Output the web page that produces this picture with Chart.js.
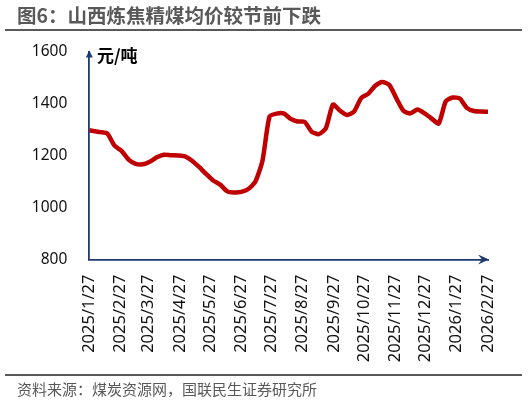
<!DOCTYPE html>
<html>
<head>
<meta charset="utf-8">
<script src="https://cdn.jsdelivr.net/npm/chart.js@4.4.1/dist/chart.umd.min.js"></script>
<style>
	html, body { margin: 0; padding: 0; background: #fff; }
	#wrap { position: relative; width: 532px; height: 401px; overflow: hidden; }
	#priceChart { position: absolute; left: 0; top: 0; }
	.title { position: absolute; left: 17px; top: 5px; font: bold 19.5px/20px "Noto Sans CJK SC"; color: #595959; white-space: nowrap; }
	.rule { position: absolute; left: 5px; width: 517px; height: 2px; background: #595959; }
	.unit { position: absolute; left: 97px; top: 45px; font: bold 17px/20px "Noto Sans CJK SC"; color: #000; white-space: nowrap; }
	.source { position: absolute; left: 17px; top: 381px; font: 15px/16px "Noto Sans CJK SC"; color: #595959; white-space: nowrap; }
</style>
</head>
<body>
<div id="wrap">
	<canvas id="priceChart" width="532" height="401"></canvas>
	<div class="title">图6：山西炼焦精煤均价较节前下跌</div>
	<div class="rule" style="top: 29px;"></div>
	<div class="unit">元/吨</div>
	<div class="rule" style="top: 374px;"></div>
	<div class="source">资料来源：煤炭资源网，国联民生证券研究所</div>
</div>
<script>
const DATES = [
	'2025/1/27', '2025/2/7', '2025/2/14', '2025/2/21', '2025/2/28',
	'2025/3/7', '2025/3/14', '2025/3/21', '2025/3/28', '2025/4/4',
	'2025/4/11', '2025/4/18', '2025/4/25', '2025/5/2', '2025/5/9',
	'2025/5/16', '2025/5/23', '2025/5/30', '2025/6/6', '2025/6/13',
	'2025/6/20', '2025/6/27', '2025/7/4', '2025/7/11', '2025/7/18',
	'2025/7/25', '2025/8/1', '2025/8/8', '2025/8/15', '2025/8/22',
	'2025/8/29', '2025/9/5', '2025/9/12', '2025/9/19', '2025/9/26',
	'2025/10/3', '2025/10/10', '2025/10/17', '2025/10/24', '2025/10/31',
	'2025/11/7', '2025/11/14', '2025/11/21', '2025/11/28', '2025/12/5',
	'2025/12/12', '2025/12/19', '2025/12/26', '2026/1/2', '2026/1/9',
	'2026/1/16', '2026/1/23', '2026/1/30', '2026/2/6', '2026/2/13',
	'2026/2/20', '2026/2/27',
];
const PRICES = [
	1297, 1290, 1284, 1238, 1218,
	1184, 1168, 1166, 1176, 1193,
	1203, 1201, 1200, 1197, 1180,
	1156, 1129, 1104, 1088, 1062,
	1058, 1060, 1071, 1100, 1180,
	1350, 1361, 1362, 1341, 1331,
	1329, 1291, 1282, 1305, 1396,
	1372, 1356, 1369, 1421, 1437,
	1468, 1483, 1471, 1420, 1372,
	1362, 1377, 1362, 1342, 1323,
	1408, 1423, 1419, 1383, 1371,
	1369, 1368,
];
const X_TICK_LABELS = [
	'2025/1/27', '2025/2/27', '2025/3/27', '2025/4/27', '2025/5/27',
	'2025/6/27', '2025/7/27', '2025/8/27', '2025/9/27', '2025/10/27',
	'2025/11/27', '2025/12/27', '2026/1/27', '2026/2/27',
];
const Y_TICKS = [800, 1000, 1200, 1400, 1600];

const AXIS_COLOR = '#1F3A6E';
const LINE_COLOR = '#C00000';
const CHART_EL = document.querySelector('#priceChart');

// dates -> days since first date, so the x axis is a true date axis
function toDay(label) {
	const [y, m, d] = label.split('/').map(Number);
	const [y0, m0, d0] = DATES[0].split('/').map(Number);
	return (Date.UTC(y, m - 1, d) - Date.UTC(y0, m0 - 1, d0)) / 86400000;
}

const tickDays = X_TICK_LABELS.map(toDay);
const points = DATES.map((date, i) => ({ x: toDay(date), y: PRICES[i] }));

const axisArrows = {
	id: 'axisArrows',
	afterDraw(chart) {
		const { ctx, chartArea } = chart;
		const { left, right, top, bottom } = chartArea;
		ctx.save();
		ctx.fillStyle = AXIS_COLOR;
		ctx.beginPath();
		ctx.moveTo(left, top - 1);
		ctx.lineTo(left - 3.5, top + 6);
		ctx.lineTo(left + 3.5, top + 6);
		ctx.closePath();
		ctx.fill();
		ctx.beginPath();
		ctx.moveTo(right + 1, bottom);
		ctx.lineTo(right - 10, bottom - 5);
		ctx.lineTo(right - 6, bottom);
		ctx.lineTo(right - 10, bottom + 5);
		ctx.closePath();
		ctx.fill();
		ctx.restore();
	},
};

const chart = new Chart(CHART_EL, {
	type: 'line',
	data: {
		datasets: [
			{
				data: points,
				borderColor: LINE_COLOR,
				borderWidth: 4.5,
				pointRadius: 0,
				tension: 0.2,
				fill: false,
			},
		],
	},
	options: {
		responsive: false,
		animation: false,
		devicePixelRatio: 1,
		layout: {
			padding: { left: 0, top: 51.5, right: 44, bottom: 0 },
		},
		scales: {
			x: {
				type: 'linear',
				min: tickDays[0],
				max: toDay(DATES[DATES.length - 1]),
				afterBuildTicks: scale => {
					scale.ticks = tickDays.map(v => ({ value: v }));
				},
				afterFit: scale => {
					scale.height = 141.5;
				},
				grid: { display: false, drawTicks: false },
				border: { display: true, color: AXIS_COLOR, width: 1.8 },
				ticks: {
					autoSkip: false,
					minRotation: 90,
					maxRotation: 90,
					padding: 15,
					color: '#111',
					font: { family: 'Noto Sans', size: 16.5 },
					callback: value => X_TICK_LABELS[tickDays.indexOf(value)],
				},
			},
			y: {
				min: 800,
				max: 1600,
				afterBuildTicks: scale => {
					scale.ticks = Y_TICKS.map(v => ({ value: v }));
				},
				afterFit: scale => {
					scale.width = 89.3;
				},
				grid: { display: false, drawTicks: false },
				border: { display: true, color: AXIS_COLOR, width: 1.8 },
				ticks: {
					padding: 22,
					color: '#111',
					font: { family: 'Noto Sans', size: 15.5 },
					callback: value => String(value),
				},
			},
		},
		plugins: {
			legend: { display: false },
			tooltip: { enabled: false },
		},
	},
	plugins: [axisArrows],
});
</script>
</body>
</html>
